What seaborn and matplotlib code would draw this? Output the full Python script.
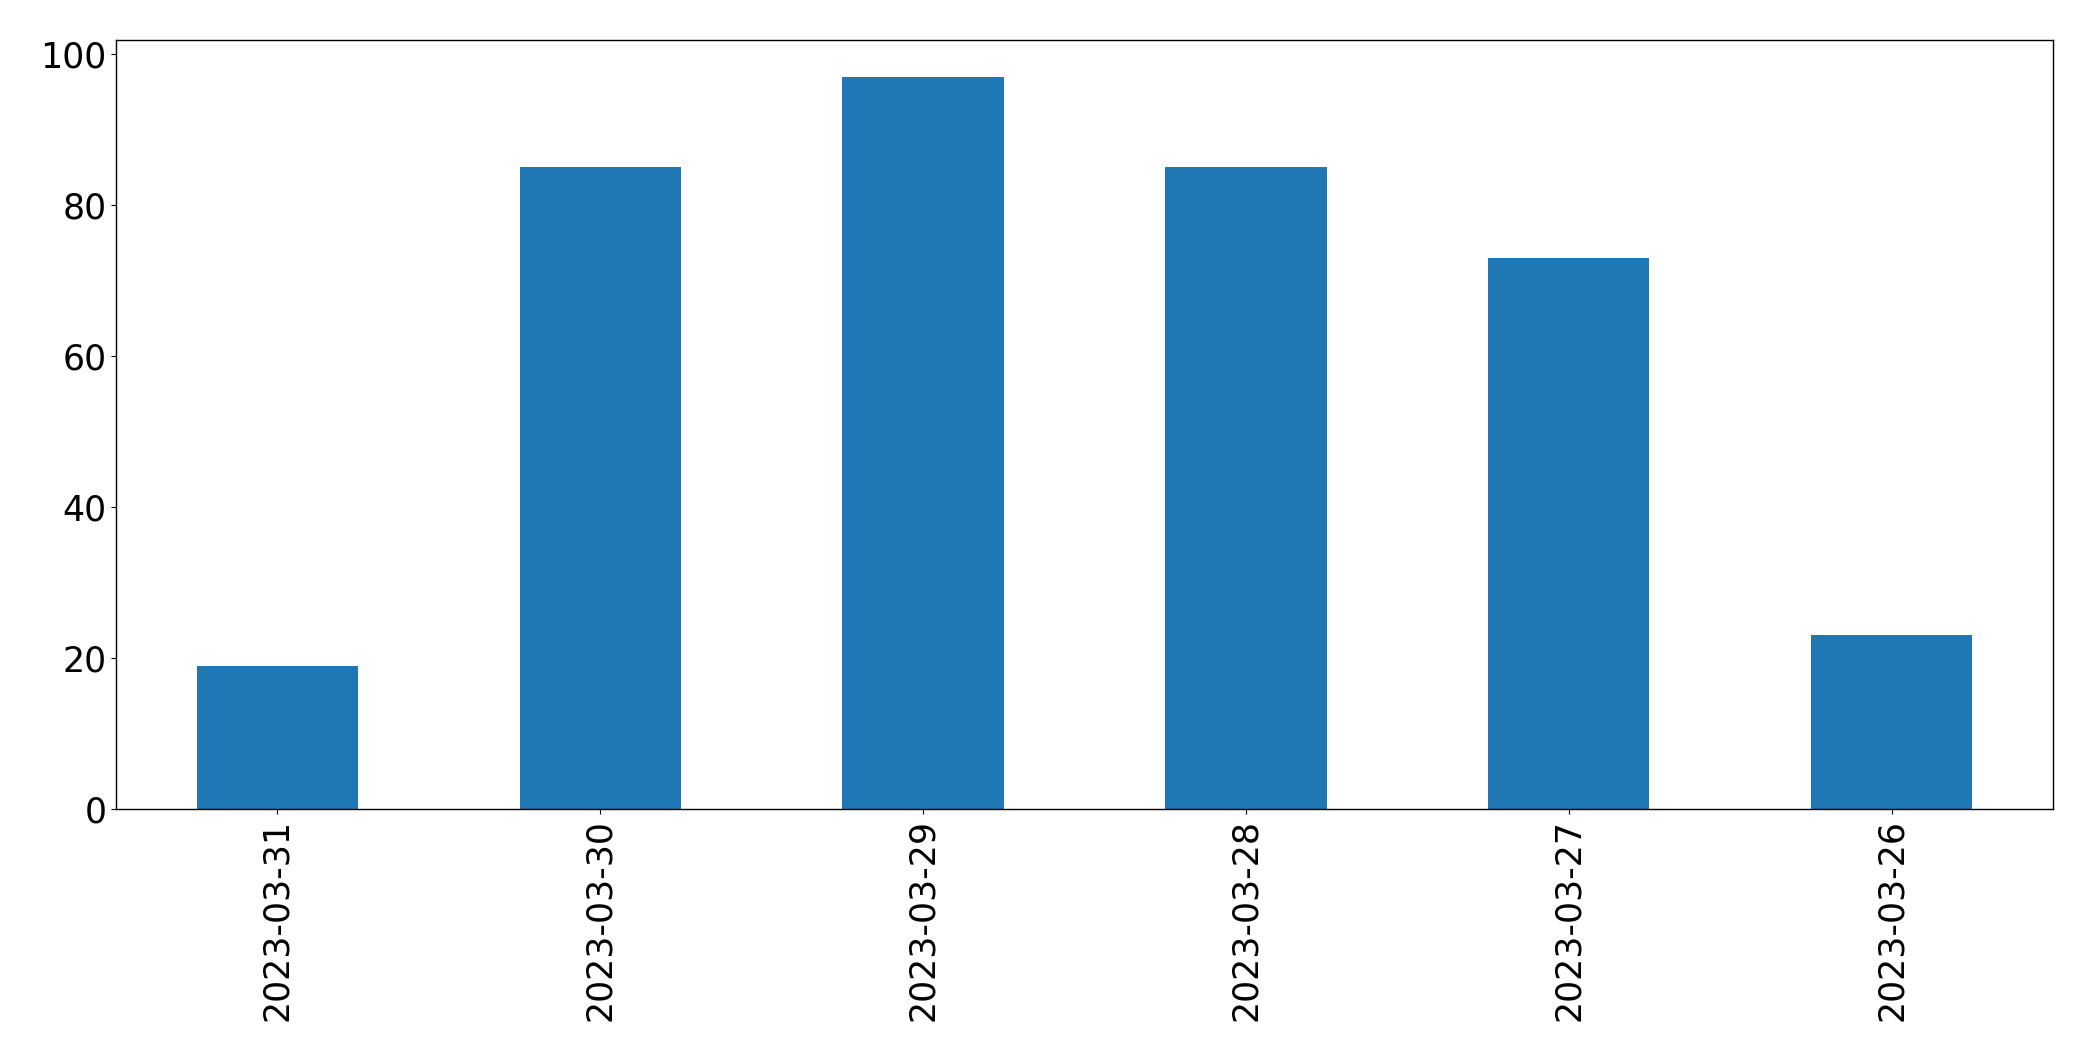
import matplotlib
matplotlib.use("Agg")
import matplotlib.pyplot as plt
import seaborn as sns
import pandas as pd

dates = ["2023-03-31", "2023-03-30", "2023-03-29", "2023-03-28", "2023-03-27", "2023-03-26"]
counts = [19, 85, 97, 85, 73, 23]

df = pd.DataFrame({"date": dates, "count": counts})

fig = plt.figure(figsize=(20.93, 10.61), dpi=100)
ax = fig.add_axes([116 / 2093, 1 - 809 / 1061, (2053 - 116) / 2093, (809 - 40) / 1061])
sns.barplot(data=df, x="date", y="count", order=dates, color="#1f77b4",
            saturation=1, width=0.5, ax=ax)
ax.set_xlim(-0.5, len(dates) - 0.5)
ax.set_ylim(0, max(counts) * 1.05)
ax.set_xlabel("")
ax.set_ylabel("")
for s in ax.spines.values():
    s.set_edgecolor("black")
    s.set_linewidth(1.0)
ax.tick_params(axis="both", labelsize=25, colors="black")
ax.tick_params(axis="x", labelrotation=90)
fig.savefig("out.png", dpi=100)
